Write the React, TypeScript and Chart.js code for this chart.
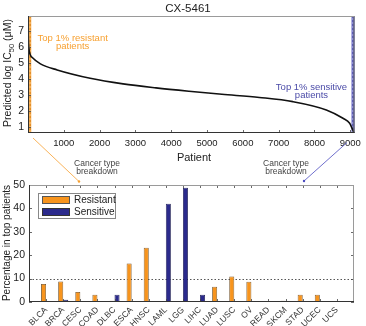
import React, { useEffect, useRef } from 'react';
import { Chart, registerables } from 'chart.js';

Chart.register(...registerables);

// ---- Top panel data (ranked predicted log IC50 per patient) ----
const patientRank = [0, 5, 20, 112, 347, 815, 1736, 2655, 3574, 4494, 5414, 6462, 7395, 8331, 8796, 8983, 9076, 9110];
const predictedLogIC50 = [7.95, 7.0, 6.0, 5.37, 4.96, 4.58, 4.06, 3.71, 3.46, 3.25, 3.06, 2.86, 2.6, 2.08, 1.56, 1.25, 0.8, 0.65];
const patientTicks = [1000, 2000, 3000, 4000, 5000, 6000, 7000, 8000, 9000];
const ic50Ticks = [1, 2, 3, 4, 5, 6, 7];
const totalPatients = 9120;
const topFraction = 0.01;

// ---- Bottom panel data (cancer type breakdown) ----
const cancerTypes = ['BLCA', 'BRCA', 'CESC', 'COAD', 'DLBC', 'ESCA', 'HNSC', 'LAML', 'LGG', 'LIHC', 'LUAD', 'LUSC', 'OV', 'READ', 'SKCM', 'STAD', 'UCEC', 'UCS'];
const resistantPct = [7.7, 8.8, 4.3, 3.1, 0.5, 16.5, 23.2, 0, 0, 0.3, 6.5, 10.9, 8.7, 0.3, 0.5, 3.1, 3.1, 0];
const sensitivePct = [0, 1.0, 0.3, 0.3, 3.1, 0, 0, 42.0, 48.8, 3.1, 0, 0.3, 0.2, 0, 0, 0.2, 0.2, 0.2];
const pctTicks = [0, 5, 10, 15, 20, 25, 30, 35, 40, 45, 50];
const thresholdPct = 10;

const FONT = '"Liberation Sans", Arial, Helvetica, sans-serif';
const ORANGE = '#F7941D';
const NAVY = '#2B2A8C';

const framePlugin = (opts: { allSides: boolean }) => ({
  id: 'frame',
  afterDatasetsDraw(chart: any) {
    const { ctx, chartArea: a, scales } = chart;
    ctx.save();
    ctx.strokeStyle = '#444';
    ctx.lineWidth = 0.8;
    const tl = 3;
    scales.x.ticks.forEach((t: any) => {
      if (t.label === '' || t.label === undefined) return;
      const px = Math.round(scales.x.getPixelForValue(t.value)) + 0.5;
      ctx.beginPath();
      ctx.moveTo(px, a.bottom);
      ctx.lineTo(px, a.bottom - tl);
      if (opts.allSides) {
        ctx.moveTo(px, a.top);
        ctx.lineTo(px, a.top + tl);
      }
      ctx.stroke();
    });
    scales.y.ticks.forEach((t: any) => {
      const py = Math.round(scales.y.getPixelForValue(t.value)) + 0.5;
      ctx.beginPath();
      ctx.moveTo(a.left, py);
      ctx.lineTo(a.left + tl, py);
      if (opts.allSides) {
        ctx.moveTo(a.right, py);
        ctx.lineTo(a.right - tl, py);
      }
      ctx.stroke();
    });
    ctx.lineWidth = 1;
    ctx.strokeStyle = '#9a9a9a';
    ctx.beginPath();
    ctx.moveTo(a.left, a.top + 0.5);
    ctx.lineTo(a.right, a.top + 0.5);
    ctx.moveTo(a.right - 0.5, a.top);
    ctx.lineTo(a.right - 0.5, a.bottom);
    ctx.stroke();
    ctx.strokeStyle = '#333';
    ctx.beginPath();
    ctx.moveTo(a.left + 0.5, a.top);
    ctx.lineTo(a.left + 0.5, a.bottom);
    ctx.moveTo(a.left, a.bottom - 0.5);
    ctx.lineTo(a.right, a.bottom - 0.5);
    ctx.stroke();
    ctx.restore();
  },
});

const bandsPlugin = {
  id: 'bands',
  beforeDatasetsDraw(chart: any) {
    const { ctx, chartArea: a, scales } = chart;
    const x = scales.x;
    const cutLow = totalPatients * topFraction;
    const cutHigh = totalPatients * (1 - topFraction);
    ctx.save();
    let x0 = x.getPixelForValue(0);
    let x1 = x.getPixelForValue(cutLow);
    ctx.fillStyle = '#F6B058';
    ctx.fillRect(x0, a.top, x1 - x0, a.bottom - a.top);
    ctx.strokeStyle = '#D97F10';
    ctx.setLineDash([2, 2]);
    ctx.lineWidth = 1;
    ctx.beginPath();
    ctx.moveTo((x0 + x1) / 2 + 0.5, a.top);
    ctx.lineTo((x0 + x1) / 2 + 0.5, a.bottom);
    ctx.stroke();
    x0 = x.getPixelForValue(cutHigh);
    x1 = x.getPixelForValue(totalPatients);
    ctx.setLineDash([]);
    ctx.fillStyle = '#8E8ED4';
    ctx.fillRect(x0, a.top, x1 - x0, a.bottom - a.top);
    ctx.strokeStyle = '#3A3A9A';
    ctx.setLineDash([2, 2]);
    ctx.beginPath();
    ctx.moveTo((x0 + x1) / 2, a.top);
    ctx.lineTo((x0 + x1) / 2, a.bottom);
    ctx.stroke();
    ctx.setLineDash([]);
    ctx.strokeStyle = '#22226a';
    ctx.lineWidth = 1.2;
    ctx.beginPath();
    ctx.moveTo(x1 - 0.6, a.top);
    ctx.lineTo(x1 - 0.6, a.bottom);
    ctx.stroke();
    ctx.restore();
  },
};

const thresholdPlugin = {
  id: 'threshold',
  beforeDatasetsDraw(chart: any) {
    const { ctx, chartArea: a, scales } = chart;
    const py = Math.round(scales.y.getPixelForValue(thresholdPct)) + 0.5;
    ctx.save();
    ctx.strokeStyle = '#555';
    ctx.lineWidth = 1;
    ctx.setLineDash([1.5, 2]);
    ctx.beginPath();
    ctx.moveTo(a.left, py);
    ctx.lineTo(a.right, py);
    ctx.stroke();
    ctx.restore();
  },
};

const abs = (x: number, y: number, extra: React.CSSProperties = {}): React.CSSProperties => ({
  position: 'absolute',
  left: x,
  top: y,
  transform: 'translate(-50%, -50%)',
  whiteSpace: 'nowrap',
  fontFamily: FONT,
  ...extra,
});

export default function App() {
  const topRef = useRef<HTMLCanvasElement>(null);
  const botRef = useRef<HTMLCanvasElement>(null);

  useEffect(() => {
    const top = new Chart(topRef.current as HTMLCanvasElement, {
      type: 'line',
      data: {
        datasets: [
          {
            data: patientRank.map((x, i) => ({ x, y: predictedLogIC50[i] })),
            borderColor: '#111',
            borderWidth: 1.6,
            pointRadius: 0,
            cubicInterpolationMode: 'monotone',
            fill: false,
          } as any,
        ],
      },
      options: {
        animation: false,
        responsive: false,
        maintainAspectRatio: false,
        layout: { padding: { left: 0, right: 11, top: 16, bottom: 0 } },
        plugins: { legend: { display: false }, tooltip: { enabled: false } },
        scales: {
          x: {
            type: 'linear',
            min: 0,
            max: totalPatients,
            afterBuildTicks: (s: any) => {
              s.ticks = patientTicks.map((v) => ({ value: v }));
            },
            afterFit: (s: any) => {
              s.height = 17;
            },
            grid: { display: false, drawTicks: false },
            border: { display: false },
            ticks: {
              font: { size: 9.5, family: FONT },
              color: '#222',
              padding: 5,
              maxRotation: 0,
              autoSkip: false,
              callback: (v: any) => String(v),
            },
          },
          y: {
            min: 0.64,
            max: 7.95,
            afterBuildTicks: (s: any) => {
              s.ticks = ic50Ticks.map((v) => ({ value: v }));
            },
            afterFit: (s: any) => {
              s.width = 28;
            },
            grid: { display: false, drawTicks: false },
            border: { display: false },
            ticks: { font: { size: 10.5, family: FONT }, color: '#222', padding: 4, callback: (v: any) => String(v) },
          },
        },
      },
      plugins: [bandsPlugin, framePlugin({ allSides: false })],
    });

    const bottom = new Chart(botRef.current as HTMLCanvasElement, {
      type: 'bar',
      data: {
        labels: ['', ...cancerTypes, ''],
        datasets: [
          {
            label: 'Resistant',
            data: [null, ...resistantPct, null],
            backgroundColor: ORANGE,
            borderColor: '#6b4a20',
            borderWidth: 0.8,
            barPercentage: 1,
            categoryPercentage: 0.585,
          },
          {
            label: 'Sensitive',
            data: [null, ...sensitivePct, null],
            backgroundColor: NAVY,
            borderColor: '#15154a',
            borderWidth: 0.8,
            barPercentage: 1,
            categoryPercentage: 0.585,
          },
        ],
      },
      options: {
        animation: false,
        responsive: false,
        maintainAspectRatio: false,
        layout: { padding: { left: 0, right: 12, top: 35, bottom: 0 } },
        plugins: { legend: { display: false }, tooltip: { enabled: false } },
        scales: {
          x: {
            type: 'category',
            offset: false,
            afterFit: (s: any) => {
              s.height = 24;
            },
            grid: { display: false, drawTicks: false },
            border: { display: false },
            ticks: {
              font: { size: 8.5, family: FONT },
              color: '#333',
              padding: 3,
              minRotation: 45,
              maxRotation: 45,
              autoSkip: false,
            },
          },
          y: {
            min: 0,
            max: 50,
            afterBuildTicks: (s: any) => {
              s.ticks = pctTicks.map((v) => ({ value: v }));
            },
            afterFit: (s: any) => {
              s.width = 29;
            },
            grid: { display: false, drawTicks: false },
            border: { display: false },
            ticks: { font: { size: 10.5, family: FONT }, color: '#222', padding: 4, callback: (v: any) => String(v) },
          },
        },
      },
      plugins: [thresholdPlugin, framePlugin({ allSides: true })],
    });

    return () => {
      top.destroy();
      bottom.destroy();
    };
  }, []);

  const small: React.CSSProperties = { fontSize: 8.5, color: '#444', textAlign: 'center', lineHeight: '8.5px' };

  return (
    <div style={{ position: 'absolute', left: 0, top: 0, width: 366, height: 326, background: '#fff', overflow: 'hidden' }}>
      <canvas ref={topRef} width={366} height={150} style={{ position: 'absolute', left: 0, top: 0, width: 366, height: 150 }} />
      <canvas ref={botRef} width={366} height={176} style={{ position: 'absolute', left: 0, top: 150, width: 366, height: 176 }} />

      <div style={abs(188, 8, { fontSize: 11.5, color: '#222' })}>CX-5461</div>
      <div style={abs(7, 73, { fontSize: 10.5, color: '#222', transform: 'translate(-50%, -50%) rotate(-90deg)' })}>
        Predicted log IC<sub style={{ fontSize: 7.5, verticalAlign: 'sub', lineHeight: 0 }}>50</sub> (μM)
      </div>
      <div style={abs(72.7, 41.5, { fontSize: 9.5, color: '#F7A030', textAlign: 'center', lineHeight: '8.5px' })}>
        Top 1% resistant
        <br />
        patients
      </div>
      <div style={abs(311.5, 91, { fontSize: 9.5, color: '#4B4BA8', textAlign: 'center', lineHeight: '8px' })}>
        Top 1% sensitive
        <br />
        patients
      </div>
      <div style={abs(194, 157, { fontSize: 11, color: '#222' })}>Patient</div>

      <div style={abs(97, 166.5, small)}>
        Cancer type
        <br />
        breakdown
      </div>
      <div style={abs(286, 166.5, small)}>
        Cancer type
        <br />
        breakdown
      </div>

      <svg width={366} height={326} style={{ position: 'absolute', left: 0, top: 0, pointerEvents: 'none' }}>
        <line x1={33} y1={138} x2={79} y2={181.5} stroke="#F7A030" strokeWidth={0.8} />
        <circle cx={79} cy={181.5} r={1.2} fill="#F7A030" />
        <line x1={347} y1={142.5} x2={304} y2={181} stroke="#4B4BC0" strokeWidth={0.8} />
        <circle cx={304} cy={181} r={1.2} fill="#4B4BC0" />
      </svg>

      <div
        style={{
          position: 'absolute',
          left: 38,
          top: 192.5,
          width: 78,
          height: 26,
          border: '1px solid #888',
          background: '#fff',
          boxSizing: 'border-box',
          fontFamily: FONT,
        }}
      >
        <div style={{ position: 'absolute', left: 3, top: 2.5, width: 28, height: 8, background: ORANGE, border: '1px solid #555', boxSizing: 'border-box' }} />
        <div style={{ position: 'absolute', left: 35, top: 0.5, fontSize: 10, color: '#222', lineHeight: '12px' }}>Resistant</div>
        <div style={{ position: 'absolute', left: 3, top: 14, width: 28, height: 8, background: NAVY, border: '1px solid #333', boxSizing: 'border-box' }} />
        <div style={{ position: 'absolute', left: 35, top: 12.5, fontSize: 10, color: '#222', lineHeight: '12px' }}>Sensitive</div>
      </div>

      <div style={abs(6, 243, { fontSize: 10, color: '#222', transform: 'translate(-50%, -50%) rotate(-90deg)' })}>
        Percentage in top patients
      </div>
    </div>
  );
}
